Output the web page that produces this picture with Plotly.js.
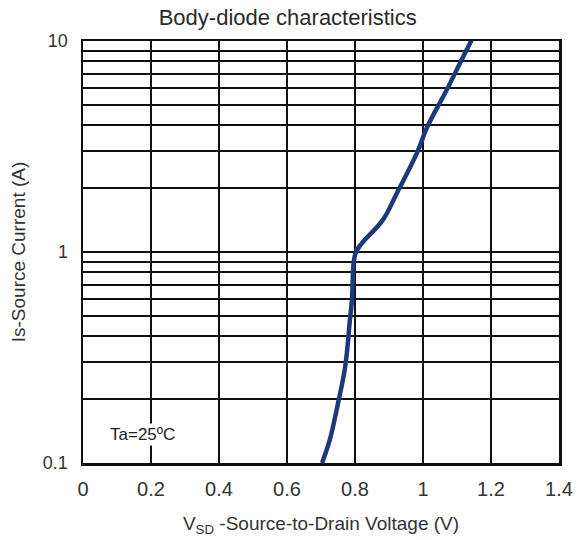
<!DOCTYPE html>
<html>
<head>
<meta charset="utf-8">
<script src="https://cdn.plot.ly/plotly-3.0.1.min.js"></script>
<style>html,body{margin:0;padding:0;background:#fff;}#chart{width:585px;height:540px;}</style>
</head>
<body>
<div id="chart"></div>
<script>
const vsd = [0.703, 0.726, 0.75, 0.771, 0.785, 0.791, 0.796, 0.803, 0.82, 0.882, 0.923, 0.982, 1.012, 1.07, 1.109, 1.147];
const isCurrent = [0.1, 0.129, 0.192, 0.285, 0.476, 0.593, 0.887, 1.0, 1.10, 1.42, 1.9, 2.94, 3.9, 5.87, 7.87, 10.4];
const xTicks = [0, 0.2, 0.4, 0.6, 0.8, 1, 1.2, 1.4];
const yGrid = [0.1,0.2,0.3,0.4,0.5,0.6,0.7,0.8,0.9,1,2,3,4,5,6,7,8,9,10];
const yLabels = ['0.1','','','','','','','','','1','','','','','','','','','10'];
const noteText = 'Ta=25ºC';

const font = {family: 'Liberation Sans, Arial, sans-serif', color: '#333'};

const trace = {
  x: vsd, y: isCurrent, type: 'scatter', mode: 'lines',
  line: {color: '#1b3a7c', width: 4.5, shape: 'spline', smoothing: 1.1},
  cliponaxis: false, hoverinfo: 'skip'
};

const layout = {
  width: 585, height: 540,
  margin: {l: 83, r: 26, t: 41, b: 77},
  paper_bgcolor: '#fff', plot_bgcolor: '#fff',
  showlegend: false,
  font: font,
  title: {text: 'Body-diode characteristics', font: {family: font.family, size: 22, color: '#2a2a2a'},
          x: 0.43, xref: 'paper', xanchor: 'center', y: 0.968, yref: 'container', yanchor: 'middle'},
  xaxis: {
    range: [0, 1.4], tickvals: xTicks, ticktext: xTicks.map(String),
    showgrid: true, gridcolor: '#111', gridwidth: 2,
    showline: true, mirror: true, linecolor: '#111', linewidth: 2.5,
    ticks: 'outside', ticklen: 6, tickcolor: 'rgba(0,0,0,0)',
    tickfont: {family: font.family, size: 20, color: '#333'},
    zeroline: false,
    title: {text: 'V<sub>SD</sub> -Source-to-Drain Voltage (V)', font: {family: font.family, size: 19, color: '#333'}, standoff: 18}
  },
  yaxis: {
    type: 'log', range: [-1, 1], tickvals: yGrid, ticktext: yLabels,
    showgrid: true, gridcolor: '#111', gridwidth: 2,
    showline: true, mirror: true, linecolor: '#111', linewidth: 2.5,
    ticks: 'outside', ticklen: 9, tickcolor: 'rgba(0,0,0,0)',
    tickfont: {family: font.family, size: 18, color: '#333'},
    zeroline: false,
    title: {text: 'Is-Source Current (A)', font: {family: font.family, size: 19, color: '#333'}, standoff: 12}
  },
  annotations: [{
    x: 0.176, y: Math.log10(0.136), xref: 'x', yref: 'y', text: noteText, showarrow: false,
    font: {family: font.family, size: 17, color: '#222'}, bgcolor: '#fff', borderpad: 1
  }]
};

Plotly.newPlot('chart', [trace], layout, {staticPlot: true, displayModeBar: false});
</script>
</body>
</html>
